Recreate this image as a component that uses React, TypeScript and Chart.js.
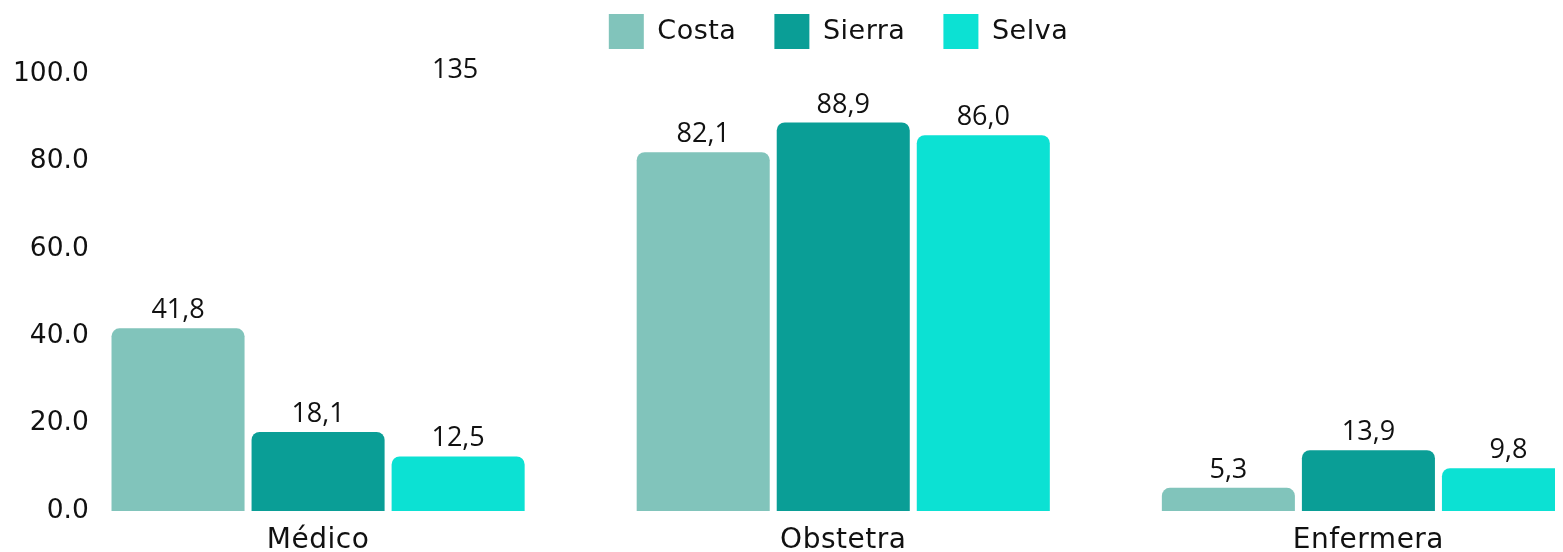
import React, { useEffect, useRef } from "react";
import { Chart, registerables } from "chart.js";

Chart.register(...registerables);

const categories = ["Médico", "Obstetra", "Enfermera"];
const seriesNames = ["Costa", "Sierra", "Selva"];
const costaValues = [41.8, 82.1, 5.3];
const sierraValues = [18.1, 88.9, 13.9];
const selvaValues = [12.5, 86.0, 9.8];
const seriesColors = ["#81C4BB", "#0A9E96", "#0CE1D3"];
const yMin = 0;
const yMax = 100;
const yStep = 20;
const noteText = "135";
const noteValue = 99.0;

const AXIS_FONT = "'DejaVu Sans', sans-serif";
const LABEL_FONT = "'Open Sans', sans-serif";
const SPACING = "0.5px";

const valueLabels = {
  id: "valueLabels",
  afterDatasetsDraw(chart: any) {
    const ctx = chart.ctx;
    ctx.save();
    ctx.fillStyle = "#111";
    ctx.font = `27px ${LABEL_FONT}`;
    ctx.textAlign = "center";
    ctx.textBaseline = "alphabetic";
    chart.data.datasets.forEach((ds: any, di: number) => {
      const meta = chart.getDatasetMeta(di);
      meta.data.forEach((bar: any, i: number) => {
        const v = ds.data[i];
        ctx.fillText(v.toFixed(1).replace(".", ","), bar.x, bar.y - 10);
      });
    });
    const meta = chart.getDatasetMeta(2);
    const x = meta.data[0].x - 3;
    const y = chart.scales.y.getPixelForValue(noteValue);
    ctx.fillText(noteText, x, y);
    ctx.restore();
  },
};

function withSpacing(ctx: any, fn: () => any) {
  const prev = ctx.letterSpacing;
  ctx.letterSpacing = SPACING;
  try {
    return fn();
  } finally {
    ctx.letterSpacing = prev || "0px";
  }
}

const layoutTweaks = {
  id: "layoutTweaks",
  beforeLayout(chart: any) {
    const lg = chart.legend;
    if (lg && !lg.__patched) {
      const origFit = lg.fit.bind(lg);
      lg.fit = function () {
        withSpacing(chart.ctx, () => origFit());
        this.height = 98;
      };
      const origDraw = lg.draw.bind(lg);
      lg.draw = function () {
        withSpacing(chart.ctx, () => origDraw());
      };
      lg.__patched = true;
    }
    const xs = chart.scales.x;
    if (xs && !xs.__patched) {
      const origDraw = xs.draw.bind(xs);
      xs.draw = function (area: any) {
        withSpacing(chart.ctx, () => origDraw(area));
      };
      xs.__patched = true;
    }
  },
};

export default function App() {
  const ref = useRef<HTMLCanvasElement | null>(null);
  useEffect(() => {
    if (!ref.current) return;
    const chart = new Chart(ref.current, {
      type: "bar",
      data: {
        labels: categories,
        datasets: [costaValues, sierraValues, selvaValues].map((d, i) => ({
          label: seriesNames[i],
          data: d,
          backgroundColor: seriesColors[i],
          borderRadius: { topLeft: 8, topRight: 8, bottomLeft: 0, bottomRight: 0 },
          borderSkipped: "bottom",
          barPercentage: 0.95,
          categoryPercentage: 0.8,
        })),
      },
      options: {
        responsive: false,
        animation: false,
        devicePixelRatio: 1,
        layout: { padding: { left: 38, right: 0, top: 0, bottom: 0 } },
        plugins: {
          legend: {
            position: "top",
            labels: {
              boxWidth: 35,
              boxHeight: 35,
              padding: 38,
              color: "#111",
              font: { family: AXIS_FONT, size: 27 },
            },
          },
          tooltip: { enabled: false },
        },
        scales: {
          x: {
            grid: { display: false, drawTicks: false },
            border: { display: false },
            ticks: { color: "#111", padding: 13, font: { family: AXIS_FONT, size: 28 } },
            afterFit: (s: any) => {
              s.height = 43;
            },
          },
          y: {
            min: yMin,
            max: yMax,
            grid: { display: false, drawTicks: false },
            border: { display: false },
            ticks: {
              stepSize: yStep,
              color: "#111",
              mirror: true,
              crossAlign: "far",
              padding: -42.5,
              font: { family: AXIS_FONT, size: 26.5 },
              callback: (v: any) => Number(v).toFixed(1),
            },
            afterFit: (s: any) => {
              s.width = 9.5;
            },
          },
        },
      },
      plugins: [valueLabels, layoutTweaks],
    });
    return () => chart.destroy();
  }, []);
  return (
    <div style={{ width: 1555, height: 544, overflow: "hidden", position: "relative" }}>
      <canvas
        ref={ref}
        width={1623}
        height={578}
        style={{ position: "absolute", left: 0, top: -32, width: 1623, height: 578 }}
      />
    </div>
  );
}
